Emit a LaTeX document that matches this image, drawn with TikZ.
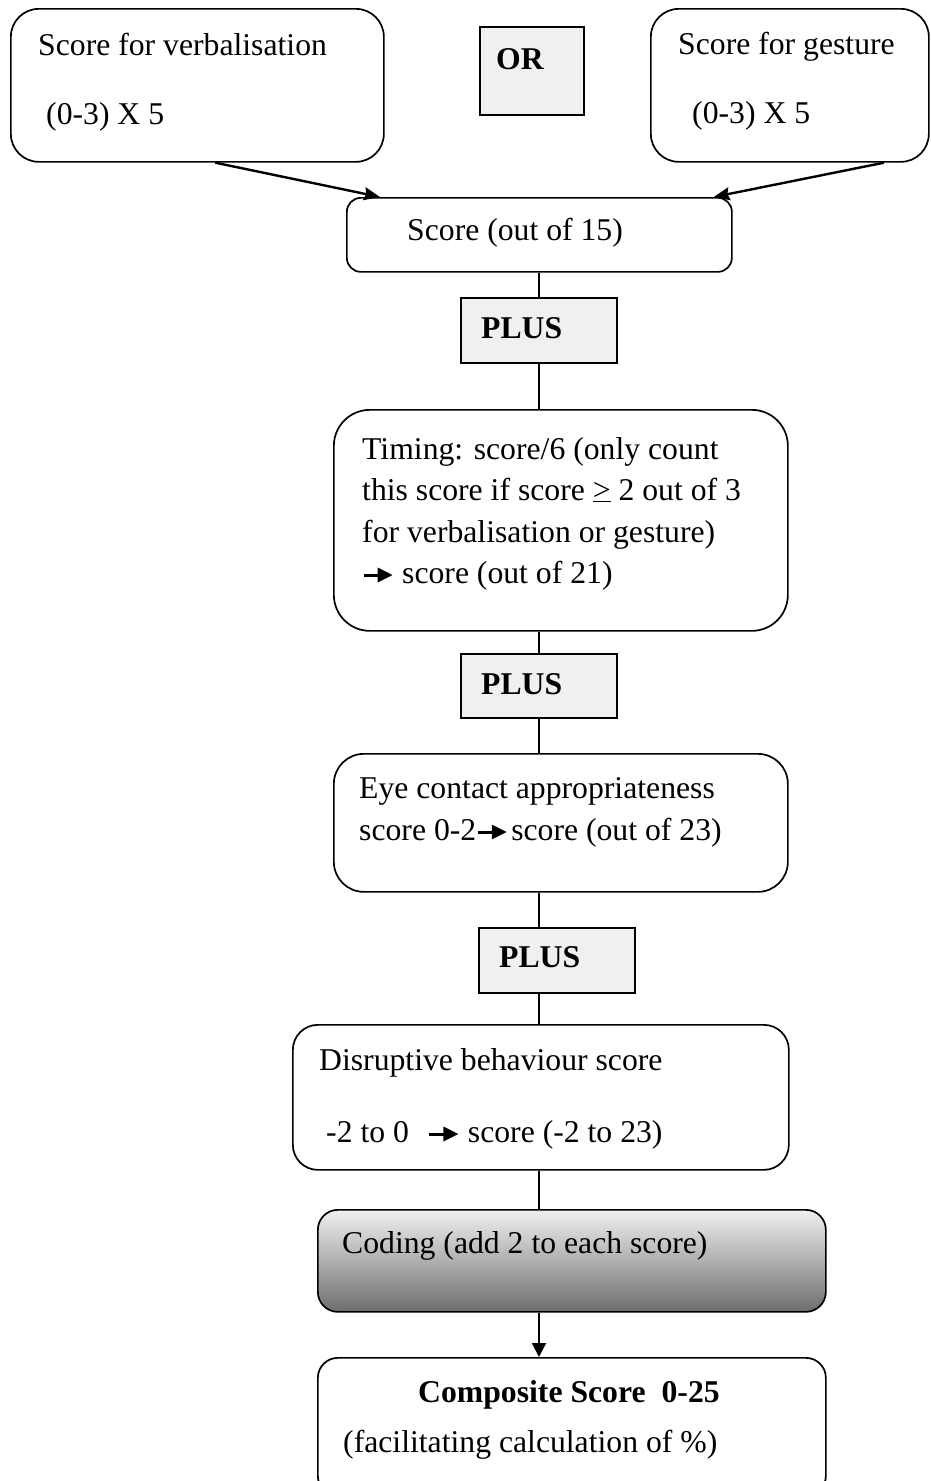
\documentclass[tikz,border=0pt]{standalone}
\usepackage{fontspec}
\setmainfont{Liberation Serif}
\usetikzlibrary{arrows.meta,calc}
\newcommand\myarr{\tikz[baseline=0pt]{\draw[line width=3pt,-{Triangle[length=15pt,width=14pt]}] (0pt,8pt)--(29pt,8pt);}}
\begin{document}
\begin{tikzpicture}[x=1pt,y=-1pt,
  box/.style={draw, line width=1.7pt, rounded corners=#1, inner sep=0pt, anchor=north west},
  box/.default=25pt,
  sqbox/.style={draw, line width=1.7pt, fill=black!6, inner sep=0pt, anchor=north west},
  txt/.style={anchor=base west, inner sep=0pt, font=\fontsize{31.7}{38}\selectfont},
  btxt/.style={txt, font=\fontsize{31.7}{38}\selectfont\bfseries},
  conn/.style={line width=1.6pt},
  arr/.style={line width=2.4pt, -{Stealth[length=16pt,width=13pt,inset=2pt]}}]
\path[use as bounding box, clip] (0,0) rectangle (931,1481);
\fill[white] (0,0) rectangle (931,1481);
\coordinate (axis) at (539,0);

% boxes
\node[box=28pt, minimum width=373pt, minimum height=153pt] (vbox) at (10,8) {};
\node[sqbox, minimum width=104pt, minimum height=88pt] (orbox) at (479,26) {};
\node[box=28pt, minimum width=278pt, minimum height=153pt] (gbox) at (650,8) {};
\node[box=14pt, minimum width=385pt, minimum height=74pt] (sbox) at (346,197) {};
\node[sqbox, minimum width=156pt, minimum height=65pt] (plus1) at (460,297) {};
\node[box=36pt, minimum width=454pt, minimum height=221pt] (tbox) at (333,409) {};
\node[sqbox, minimum width=156pt, minimum height=64pt] (plus2) at (460,653) {};
\node[box=30pt, minimum width=454pt, minimum height=138pt] (ebox) at (333,753) {};
\node[sqbox, minimum width=156pt, minimum height=65pt] (plus3) at (478,927) {};
\node[box=25pt, minimum width=496pt, minimum height=145pt] (dbox) at (292,1024) {};
\node[box=20pt, minimum width=508pt, minimum height=102pt, top color=black!6, middle color=black!15, bottom color=black!57] (cbox) at (317,1209) {};
\node[box=20pt, minimum width=508pt, minimum height=138pt] (compbox) at (317,1357) {};

% texts
\node[txt] (t1) at (38,55) {Score for verbalisation};
\node[txt] (t2) at (46,124) {(0-3) X 5};
\node[btxt] (tor) at (496,69) {OR};
\node[txt] (t3) at (678,54) {Score for gesture};
\node[txt] (t4) at (692,123) {(0-3) X 5};
\node[txt] (t5) at (407,240) {Score (out of 15)};
\node[btxt] (tp1) at (481,338) {PLUS};
\node[txt] (t6) at (362,459) {Timing: score/6 (only count};
\node[txt] (t7) at (362,500) {this score if score \underline{>} 2 out of 3};
\node[txt] (t8) at (362,542) {for verbalisation or gesture)};
\node[txt] (t9) at (362,583) {\myarr\hspace{8pt}score (out of 21)};
\node[btxt] (tp2) at (481,694) {PLUS};
\node[txt] (t10) at (359,798) {Eye contact appropriateness};
\node[txt] (t11) at (359,840) {score 0-2\myarr\hspace{3pt}score (out of 23)};
\node[btxt] (tp3) at (499,967) {PLUS};
\node[txt] (t12) at (319,1070) {Disruptive behaviour score};
\node[txt] (t13) at (326,1142) {-2 to 0\hspace{19pt}\myarr\hspace{8pt}score (-2 to 23)};
\node[txt] (t14) at (342,1253) {Coding (add 2 to each score)};
\node[btxt] (t15) at (418,1402) {Composite Score\hspace{16pt}0-25};
\node[txt] (t16) at (343,1452) {(facilitating calculation of \%)};

% connectors
\draw[arr] ([xshift=18pt]vbox.south) -- ([xshift=34pt]sbox.north west);
\draw[arr] ([xshift=94pt]gbox.south) -- ([xshift=-19pt]sbox.north east);
\draw[conn] (sbox.south -| axis) -- (plus1.north -| axis);
\draw[conn] (plus1.south -| axis) -- (tbox.north -| axis);
\draw[conn] (tbox.south -| axis) -- (plus2.north -| axis);
\draw[conn] (plus2.south -| axis) -- (ebox.north -| axis);
\draw[conn] (ebox.south -| axis) -- (plus3.north -| axis);
\draw[conn] (plus3.south -| axis) -- (dbox.north -| axis);
\draw[conn] (dbox.south -| axis) -- (cbox.north -| axis);
\draw[line width=2pt, -{Triangle[length=14pt,width=14pt]}] (cbox.south -| axis) -- (compbox.north -| axis);
\end{tikzpicture}
\end{document}
